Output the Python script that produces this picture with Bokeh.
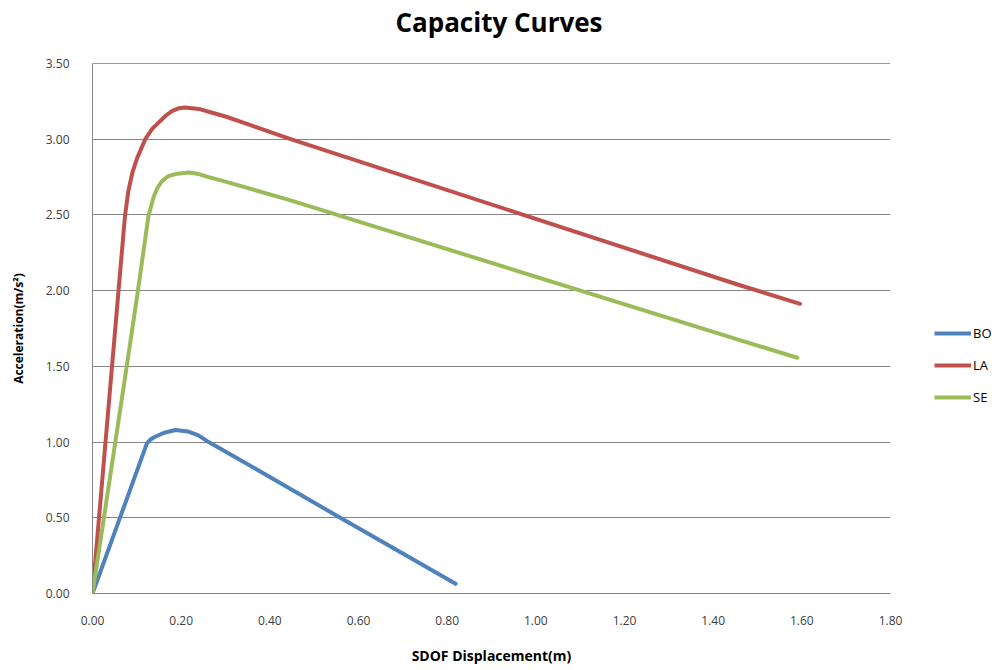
from bokeh.plotting import figure
from bokeh.models import Range1d, Legend, LegendItem, FixedTicker, Span, Div
from bokeh.layouts import column, row
from bokeh.embed import file_html
from bokeh.resources import INLINE

# ---- data ----
bo_x = [0, 0.0625, 0.1225, 0.130, 0.138, 0.16, 0.187, 0.215, 0.239, 0.262, 0.40, 0.55, 0.695, 0.819]
bo_y = [0, 0.504, 0.99, 1.015, 1.03, 1.06, 1.08, 1.07, 1.044, 1.00, 0.77, 0.515, 0.273, 0.064]

la_x = [0, 0.0323, 0.0587, 0.0735, 0.081, 0.090, 0.100, 0.119, 0.135, 0.149, 0.165, 0.179,
        0.195, 0.209, 0.240, 0.270, 0.300, 0.350, 0.447, 1.462, 1.596]
la_y = [0, 1.10, 2.00, 2.50, 2.66, 2.78, 2.87, 3.00, 3.07, 3.11, 3.155, 3.185,
        3.205, 3.21, 3.20, 3.175, 3.15, 3.10, 3.00, 2.034, 1.913]

se_x = [0, 0.0775, 0.1025, 0.126, 0.138, 0.147, 0.156, 0.170, 0.187, 0.217, 0.240,
        0.262, 0.300, 0.447, 1.462, 1.590]
se_y = [0, 1.506, 2.00, 2.49, 2.62, 2.68, 2.72, 2.755, 2.77, 2.78, 2.77,
        2.75, 2.72, 2.596, 1.671, 1.557]

series_names = ["BO", "LA", "SE"]
series_colors = ["#4F81BD", "#C0504D", "#9BBB59"]

x_ticks = [0.0, 0.2, 0.4, 0.6, 0.8, 1.0, 1.2, 1.4, 1.6, 1.8]
y_ticks = [0.0, 0.5, 1.0, 1.5, 2.0, 2.5, 3.0, 3.5]

FONT = "Open Sans"
TXT = "#404040"

title = Div(text="Capacity Curves", width=995, height=45, margin=0,
            styles={"text-align": "center", "font-family": FONT, "font-weight": "bold",
                    "font-size": "26px", "line-height": "44px", "color": "#000000",
                    "padding-left": "3px", "width": "995px"})

p = figure(width=905, height=625, output_backend="svg", toolbar_location=None,
           x_range=Range1d(0, 1.8), y_range=Range1d(0, 3.5),
           min_border_left=92, min_border_right=15, min_border_top=18, min_border_bottom=77)

p.outline_line_color = None
p.background_fill_color = "white"
p.border_fill_color = "white"

series_x = [bo_x, la_x, se_x]
series_y = [bo_y, la_y, se_y]
for xs, ys, c in zip(series_x, series_y, series_colors):
    p.line(xs, ys, line_color=c, line_width=4, line_join="round", line_cap="round")

for ax in (p.xaxis[0], p.yaxis[0]):
    ax.axis_line_color = "#868686"
    ax.major_tick_line_color = None
    ax.minor_tick_line_color = None
    ax.major_label_text_font = FONT
    ax.major_label_text_font_size = "12px"
    ax.major_label_text_color = TXT
    ax.axis_label_text_font = FONT
    ax.axis_label_text_font_style = "bold"
    ax.axis_label_text_color = "#000000"

p.xaxis.axis_label_text_font_size = "14px"
p.yaxis.axis_label_text_font_size = "12px"
p.xaxis.ticker = FixedTicker(ticks=x_ticks)
p.yaxis.ticker = FixedTicker(ticks=y_ticks)
p.xaxis.major_label_overrides = {t: f"{t:.2f}" for t in x_ticks}
p.yaxis.major_label_overrides = {t: f"{t:.2f}" for t in y_ticks}
p.xaxis.axis_label = "SDOF Displacement(m)"
p.yaxis.axis_label = "Acceleration(m/s²)"
p.xaxis.major_label_standoff = 16
p.yaxis.major_label_standoff = 17
p.xaxis.axis_label_standoff = 18
p.yaxis.axis_label_standoff = 16

p.xgrid.grid_line_color = None
p.ygrid.grid_line_color = "#868686"
p.ygrid.grid_line_width = 1

p.add_layout(Span(location=3.5, dimension="width", line_color="#333333", line_width=1))

# legend panel: a small figure to the right; its range lies outside the data so only the legend shows
lf = figure(width=90, height=625, output_backend="svg", toolbar_location=None,
            x_range=Range1d(-2, -1), y_range=Range1d(-2, -1),
            min_border=0, min_border_left=0, min_border_right=0,
            min_border_top=0, min_border_bottom=0)
lf.axis.visible = False
lf.grid.visible = False
lf.outline_line_color = None
lf.border_fill_color = "white"
lf.background_fill_color = "white"

keys = [lf.line(xs, ys, line_color=c, line_width=4)
        for xs, ys, c in zip(series_x, series_y, series_colors)]
legend = Legend(items=[LegendItem(label=n, renderers=[r]) for n, r in zip(series_names, keys)],
                location=(29, 186), orientation="vertical",
                glyph_width=37, glyph_height=20, label_height=20, spacing=12,
                label_standoff=2, padding=0, margin=0,
                border_line_color=None, background_fill_alpha=0,
                label_text_font=FONT, label_text_font_size="13px", label_text_color="#000000")
lf.add_layout(legend, "center")

layout = column(title, row(p, lf, spacing=0), spacing=0)

open("out.html", "w").write(file_html(layout, INLINE))
